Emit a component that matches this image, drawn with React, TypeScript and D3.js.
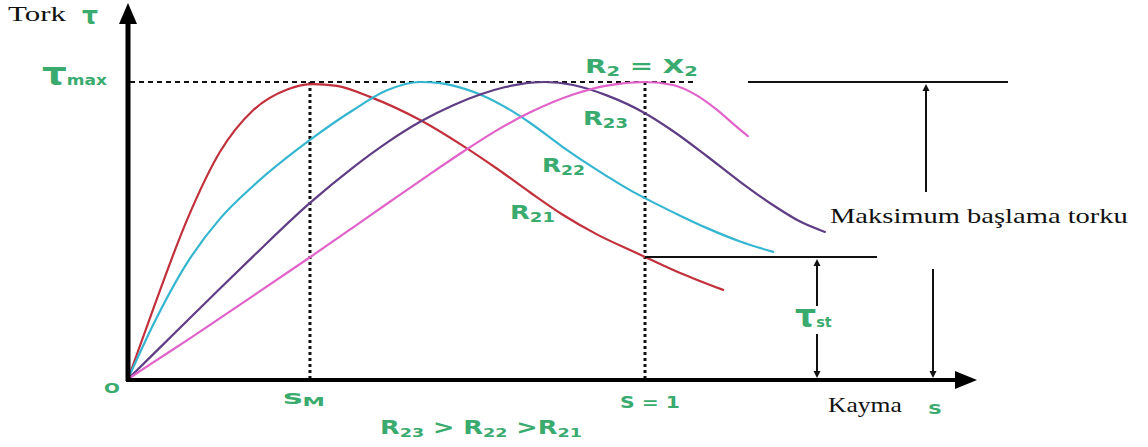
import React, { useLayoutEffect, useRef } from "react";
import * as d3 from "d3";

// Slip values (s) and torque values (T / Tmax) for each rotor resistance curve
const slipR21 = [0, 0.048, 0.114, 0.178, 0.242, 0.308, 0.358, 0.404, 0.468, 0.565, 0.648, 0.714, 0.778, 0.841, 0.907, 0.971, 1.0, 1.068, 1.151];
const torqueR21 = [0, 0.232, 0.535, 0.765, 0.905, 0.975, 0.993, 0.987, 0.95, 0.872, 0.785, 0.708, 0.628, 0.553, 0.487, 0.434, 0.411, 0.357, 0.3];

const slipR22 = [0, 0.048, 0.114, 0.178, 0.242, 0.352, 0.435, 0.501, 0.565, 0.6, 0.629, 0.681, 0.739, 0.778, 0.841, 0.907, 0.971, 1.0, 1.068, 1.12, 1.184, 1.248];
const torqueR22 = [0, 0.18, 0.39, 0.54, 0.65, 0.805, 0.905, 0.972, 1.0, 0.997, 0.988, 0.958, 0.906, 0.862, 0.781, 0.704, 0.636, 0.609, 0.55, 0.508, 0.463, 0.428];

const slipR23 = [0, 0.048, 0.114, 0.178, 0.242, 0.352, 0.435, 0.501, 0.565, 0.629, 0.681, 0.73, 0.78, 0.806, 0.861, 0.926, 1.0, 1.054, 1.12, 1.184, 1.248, 1.3, 1.348];
const torqueR23 = [0, 0.082, 0.195, 0.305, 0.413, 0.593, 0.712, 0.796, 0.866, 0.922, 0.958, 0.983, 0.998, 1.0, 0.99, 0.955, 0.895, 0.835, 0.75, 0.664, 0.585, 0.53, 0.495];

const slipR2X2 = [0, 0.048, 0.114, 0.178, 0.242, 0.352, 0.435, 0.501, 0.584, 0.648, 0.714, 0.778, 0.861, 0.926, 1.0, 1.054, 1.1, 1.14, 1.17, 1.199];
const torqueR2X2 = [0, 0.055, 0.13, 0.205, 0.28, 0.41, 0.51, 0.59, 0.69, 0.765, 0.838, 0.898, 0.958, 0.988, 1.0, 0.99, 0.955, 0.905, 0.86, 0.818];

// Marked slip values and torque levels
const slipMaxTorque = 0.352; // s_M of R21
const slipStart = 1;
const torqueMax = 1;
const torqueStart = 0.411; // R21 at s = 1

const curveColors = ["#c2303c", "#35b6d0", "#5f3d84", "#e163c9"];
const GREEN = "#3aab6e";

const W = 1148;
const H = 447;

const x = d3.scaleLinear().domain([0, 1]).range([128, 645]);
const y = d3.scaleLinear().domain([0, 1]).range([379, 82]);

const line = d3
  .line<[number, number]>()
  .x((d) => x(d[0]))
  .y((d) => y(d[1]))
  .curve(d3.curveMonotoneX);

const zip = (s: number[], t: number[]): [number, number][] => s.map((v, i) => [v, t[i]]);

const series = [
  zip(slipR21, torqueR21),
  zip(slipR22, torqueR22),
  zip(slipR23, torqueR23),
  zip(slipR2X2, torqueR2X2),
];

const sans = "'DejaVu Sans', 'Open Sans', sans-serif";
const serif = "'Liberation Serif', 'DejaVu Serif', serif";

// Text that is stretched horizontally so it spans a given width from x0
function Fit({
  x0,
  y0,
  w,
  children,
  ...rest
}: { x0: number; y0: number; w: number; children: React.ReactNode } & React.SVGProps<SVGTextElement>) {
  const g = useRef<SVGGElement>(null);
  const t = useRef<SVGTextElement>(null);
  useLayoutEffect(() => {
    if (!t.current || !g.current) return;
    const bw = t.current.getBBox().width;
    if (bw > 0) {
      const sx = w / bw;
      g.current.setAttribute("transform", `translate(${x0},0) scale(${sx},1) translate(${-x0},0)`);
    }
  }, [x0, w]);
  return (
    <g ref={g}>
      <text ref={t} x={x0} y={y0} {...rest}>
        {children}
      </text>
    </g>
  );
}

function ArrowHead({ cx, cy, dir }: { cx: number; cy: number; dir: "up" | "down" }) {
  const h = 7;
  const w = 3.5;
  const p =
    dir === "up"
      ? `M${cx},${cy} L${cx - w},${cy + h} L${cx + w},${cy + h} Z`
      : `M${cx},${cy} L${cx - w},${cy - h} L${cx + w},${cy - h} Z`;
  return <path d={p} fill="#111" />;
}

const greenText = { fill: GREEN, fontFamily: sans, fontWeight: 700 } as const;

export default function App() {
  const x0 = x(0);
  const y0 = y(0);
  const xs1 = x(slipStart);
  const xsm = x(slipMaxTorque);
  const yMax = y(torqueMax);
  const ySt = y(torqueStart);

  return (
    <div style={{ position: "absolute", left: 0, top: 0 }}>
      <svg width={W} height={H} viewBox={`0 0 ${W} ${H}`} style={{ display: "block", background: "#fff" }}>
        {/* Tmax reference and slip markers */}
        <line x1={x0 + 2} x2={695} y1={yMax} y2={yMax} stroke="#111" strokeWidth={2} strokeDasharray="5 4" />
        <line x1={xsm} x2={xsm} y1={yMax} y2={y0} stroke="#111" strokeWidth={3} strokeDasharray="3 3" />
        <line x1={xs1} x2={xs1} y1={yMax} y2={y0} stroke="#111" strokeWidth={3} strokeDasharray="3 3" />

        {/* Torque–slip curves */}
        {series.map((d, i) => (
          <path key={i} d={line(d) || ""} fill="none" stroke={curveColors[i]} strokeWidth={2.2} strokeLinecap="round" />
        ))}

        {/* Axes */}
        <line x1={x0} x2={x0} y1={y0 + 2} y2={20} stroke="#000" strokeWidth={5} />
        <path d={`M${x0},3 L${x0 - 9},24 L${x0 + 9},24 Z`} fill="#000" />
        <line x1={x0 - 2} x2={958} y1={y0 + 1} y2={y0 + 1} stroke="#000" strokeWidth={4} />
        <path d={`M977,${y0 + 1} L955,${y0 - 8} L955,${y0 + 10} Z`} fill="#000" />

        {/* Maximum starting torque annotation */}
        <line x1={748} x2={1008} y1={yMax} y2={yMax} stroke="#111" strokeWidth={2} />
        <line x1={926} x2={926} y1={yMax + 4} y2={192} stroke="#111" strokeWidth={2} />
        <ArrowHead cx={926} cy={yMax + 2} dir="up" />
        <line x1={933} x2={933} y1={269} y2={y0 - 4} stroke="#111" strokeWidth={2} />
        <ArrowHead cx={933} cy={y0 - 1} dir="down" />
        <Fit x0={830} y0={223} w={298} fontFamily={serif} fontSize={22} fill="#111">
          Maksimum başlama torku
        </Fit>

        {/* Starting torque annotation */}
        <line x1={xs1} x2={877} y1={ySt} y2={ySt} stroke="#111" strokeWidth={2} />
        <line x1={817} x2={817} y1={ySt + 4} y2={306} stroke="#111" strokeWidth={2} />
        <ArrowHead cx={817} cy={ySt + 2} dir="up" />
        <line x1={817} x2={817} y1={334} y2={y0 - 4} stroke="#111" strokeWidth={2} />
        <ArrowHead cx={817} cy={y0 - 1} dir="down" />
        <Fit x0={795} y0={327} w={37} {...greenText}>
          <tspan fontSize={32}>τ</tspan>
          <tspan fontSize={14}>st</tspan>
        </Fit>

        {/* Axis titles */}
        <Fit x0={8} y0={21} w={58} fontFamily={serif} fontSize={22} fill="#111">
          Tork
        </Fit>
        <Fit x0={82} y0={24} w={16} {...greenText} fontSize={25}>
          τ
        </Fit>
        <Fit x0={42} y0={85} w={65} {...greenText}>
          <tspan fontSize={32}>τ</tspan>
          <tspan fontSize={14}>max</tspan>
        </Fit>
        <Fit x0={828} y0={412} w={74} fontFamily={serif} fontSize={20} fill="#111">
          Kayma
        </Fit>
        <Fit x0={928} y0={414} w={14} {...greenText} fontSize={14}>
          S
        </Fit>

        {/* Axis markers */}
        <Fit x0={104} y0={393} w={16} {...greenText} fontSize={14}>
          O
        </Fit>
        <Fit x0={283} y0={404} w={42} {...greenText}>
          <tspan fontSize={19}>s</tspan>
          <tspan fontSize={13} dy={2}>M</tspan>
        </Fit>
        <Fit x0={620} y0={408} w={60} {...greenText} fontSize={16}>
          S = 1
        </Fit>

        {/* Curve labels */}
        <Fit x0={585} y0={73} w={113} {...greenText} fontSize={20}>
          R<tspan fontSize={14} dy={3}>2</tspan>
          <tspan dy={-3}> = X</tspan>
          <tspan fontSize={14} dy={3}>2</tspan>
        </Fit>
        <Fit x0={583} y0={125} w={45} {...greenText} fontSize={20}>
          R<tspan fontSize={14} dy={3}>23</tspan>
        </Fit>
        <Fit x0={542} y0={172} w={43} {...greenText} fontSize={20}>
          R<tspan fontSize={14} dy={3}>22</tspan>
        </Fit>
        <Fit x0={510} y0={219} w={45} {...greenText} fontSize={20}>
          R<tspan fontSize={14} dy={3}>21</tspan>
        </Fit>

        {/* Resistance ordering */}
        <Fit x0={380} y0={434} w={202} {...greenText} fontSize={19}>
          R<tspan fontSize={13} dy={3}>23</tspan>
          <tspan dy={-3}> &gt; R</tspan>
          <tspan fontSize={13} dy={3}>22</tspan>
          <tspan dy={-3}> &gt;R</tspan>
          <tspan fontSize={13} dy={3}>21</tspan>
        </Fit>
      </svg>
    </div>
  );
}
